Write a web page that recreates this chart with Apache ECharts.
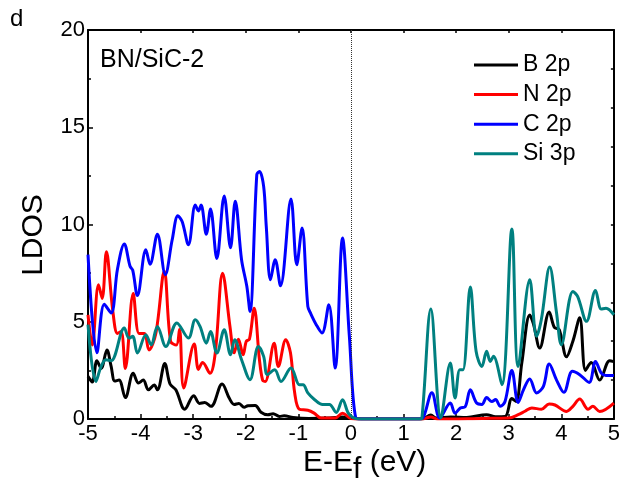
<!DOCTYPE html>
<html>
<head>
<meta charset="utf-8">
<script src="https://cdn.jsdelivr.net/npm/echarts@6/dist/echarts.min.js"></script>
<style>
html,body{margin:0;padding:0;background:#fff;}
#chart{width:623px;height:485px;}
</style>
</head>
<body>
<div id="chart"></div>
<script>
// ---- data (energy in eV, LDOS) ----
const seriesNames = ['B 2p', 'N 2p', 'C 2p', 'Si 3p'];
const xTicks = [-5, -4, -3, -2, -1, 0, 1, 2, 3, 4, 5];
const yTicks = [0, 5, 10, 15, 20];

const bX = [-5, -4.92, -4.83, -4.75, -4.64, -4.56, -4.49, -4.41, -4.29, -4.14, -4.04, -3.95, -3.85, -3.74, -3.68, -3.54, -3.44, -3.33, -3.16, -2.99, -2.88, -2.78, -2.66, -2.45, -2.31, -2.22, -2.13, -2.03, -1.96, -1.82, -1.71, -1.58, -1.48, -1.36, -1.27, -1.1, -0.8, -0.4, -0.16, 0.05, 0.2, 1.35, 1.52, 1.62, 1.9, 2.2, 2.58, 2.75, 2.93, 3.06, 3.14, 3.25, 3.4, 3.47, 3.59, 3.77, 3.87, 3.96, 4.1, 4.22, 4.35, 4.46, 4.57, 4.73, 4.92, 5];
const bY = [2.2, 1.9, 3.0, 2.6, 3.55, 2.7, 1.95, 2.0, 1.1, 2.35, 1.85, 2.0, 1.5, 1.75, 1.5, 2.85, 1.8, 1.5, 0.5, 1.2, 0.8, 0.85, 0.65, 1.8, 1.05, 0.75, 0.8, 0.6, 0.68, 0.7, 0.35, 0.22, 0.27, 0.13, 0.17, 0.08, 0.03, 0.05, 0.1, 0.02, 0, 0, 0.2, 0.05, 0.1, 0.08, 0.22, 0.12, 0.13, 1.05, 0.9, 2.9, 5.35, 4.9, 3.65, 5.5, 4.7, 4.6, 3.2, 4.0, 5.2, 2.5, 2.9, 2.0, 3.0, 2.95];

const nX = [-5, -4.92, -4.8, -4.73, -4.65, -4.53, -4.44, -4.37, -4.29, -4.14, -4.03, -3.93, -3.84, -3.71, -3.55, -3.43, -3.32, -3.26, -3.18, -2.98, -2.9, -2.82, -2.68, -2.58, -2.44, -2.3, -2.22, -2.14, -2.05, -1.99, -1.93, -1.84, -1.74, -1.68, -1.63, -1.46, -1.38, -1.24, -1.15, -1.07, -0.98, -0.82, -0.7, -0.57, -0.3, -0.16, 0.0, 0.2, 1.35, 1.52, 1.65, 2.5, 3.0, 3.18, 3.31, 3.44, 3.62, 3.77, 3.88, 4.1, 4.22, 4.35, 4.51, 4.6, 4.73, 5];
const nY = [5.35, 3.8, 6.9, 6.2, 8.6, 5.6, 4.4, 4.5, 2.6, 6.45, 4.4, 4.4, 3.55, 4.4, 7.6, 4.0, 3.8, 4.6, 1.6, 3.85, 2.55, 2.9, 2.35, 3.4, 7.5, 4.75, 3.4, 4.1, 3.3, 4.0, 4.1, 5.7, 3.05, 2.0, 1.93, 3.9, 2.7, 4.08, 3.4, 1.35, 0.5, 0.45, 0.3, 0.05, 0.05, 0.3, 0.03, 0, 0, 0.1, 0, 0.03, 0.05, 0.22, 0.4, 0.57, 0.5, 0.77, 0.72, 0.39, 0.65, 1.03, 0.5, 0.65, 0.39, 0.82];

const cX = [-5, -4.83, -4.69, -4.56, -4.44, -4.31, -4.2, -4.15, -4.06, -3.9, -3.82, -3.68, -3.53, -3.4, -3.29, -3.21, -3.09, -2.96, -2.9, -2.85, -2.75, -2.67, -2.55, -2.41, -2.29, -2.2, -2.08, -1.98, -1.92, -1.79, -1.74, -1.66, -1.61, -1.53, -1.44, -1.34, -1.14, -1.03, -0.93, -0.82, -0.77, -0.66, -0.55, -0.42, -0.3, -0.16, -0.03, 0.09, 0.2, 1.3, 1.38, 1.54, 1.69, 1.89, 1.98, 2.08, 2.17, 2.27, 2.39, 2.49, 2.58, 2.68, 2.75, 2.84, 2.93, 3.06, 3.18, 3.28, 3.4, 3.53, 3.66, 3.77, 3.91, 4.05, 4.21, 4.35, 4.53, 4.65, 4.76, 4.85, 5];
const cY = [8.45, 3.4, 5.9, 5.45, 7.7, 9.0, 7.85, 7.65, 6.35, 8.7, 7.95, 9.5, 7.42, 9.2, 10.45, 10.15, 8.96, 11.0, 10.7, 11.0, 9.5, 10.8, 8.25, 11.47, 8.8, 11.2, 8.19, 6.82, 5.53, 12.56, 12.73, 11.96, 9.9, 7.16, 8.19, 6.85, 11.31, 7.93, 9.82, 5.79, 5.45, 4.85, 4.42, 5.88, 2.62, 9.3, 4.25, 0.07, 0, 0, 0.1, 1.35, 0.05, 0.82, 0.3, 0.57, 0.62, 1.5, 0.82, 0.75, 1.1, 0.9, 1.0, 0.65, 0.9, 2.5, 0.85, 1.5, 2.06, 1.34, 1.68, 2.83, 2.0, 1.37, 2.45, 2.28, 1.88, 2.96, 2.36, 2.24, 2.24];

const sX = [-5, -4.85, -4.75, -4.66, -4.56, -4.31, -4.22, -4.15, -4.06, -3.9, -3.8, -3.68, -3.52, -3.31, -3.09, -2.96, -2.87, -2.75, -2.67, -2.55, -2.41, -2.29, -2.21, -2.08, -1.92, -1.76, -1.66, -1.59, -1.45, -1.33, -1.14, -0.98, -0.91, -0.82, -0.69, -0.54, -0.41, -0.28, -0.16, -0.05, 0.06, 0.2, 1.3, 1.35, 1.52, 1.71, 1.89, 1.98, 2.07, 2.13, 2.27, 2.38, 2.49, 2.58, 2.65, 2.71, 2.87, 3.06, 3.18, 3.4, 3.53, 3.62, 3.78, 3.91, 4.0, 4.22, 4.31, 4.48, 4.65, 4.76, 4.85, 5];
const sY = [4.85, 1.93, 2.7, 3.05, 3.0, 4.68, 4.16, 4.25, 3.39, 4.33, 3.82, 4.76, 3.73, 4.94, 4.16, 5.1, 4.76, 3.9, 4.5, 3.39, 4.59, 3.3, 4.08, 3.05, 2.02, 3.73, 3.22, 2.28, 2.53, 1.93, 2.62, 1.76, 1.76, 1.34, 0.99, 0.74, 0.74, 0.34, 0.99, 0.3, 0.05, 0, 0, 0.05, 5.65, 0.07, 2.88, 1.08, 2.53, 2.53, 6.79, 3.48, 2.7, 3.48, 2.96, 3.22, 1.76, 9.77, 2.7, 7.16, 4.25, 5.1, 7.81, 5.45, 3.82, 6.56, 6.3, 5.02, 6.61, 5.65, 5.7, 5.36];

const colors = ['#000000', '#ff0000', '#0000ff', '#008080'];
const FONT = 'Liberation Sans, Arial, Helvetica, sans-serif';

function pairs(xs, ys) { return xs.map((x, i) => [x, ys[i]]); }
const allData = [pairs(bX, bY), pairs(nX, nY), pairs(cX, cY), pairs(sX, sY)];

// measure text widths for the x-axis title with subscript
const ctx = document.createElement('canvas').getContext('2d');
ctx.font = '30px ' + FONT;
const w1 = ctx.measureText('E-E').width;
const w2 = ctx.measureText('f').width;
const titleLeft = 303;
const titleTop = 448;

const chart = echarts.init(document.getElementById('chart'));

const series = seriesNames.map((name, i) => ({
  name: name,
  type: 'line',
  data: allData[i],
  smooth: 0.35,
  symbol: 'none',
  lineStyle: { color: colors[i], width: 3 },
  itemStyle: { color: colors[i] },
  z: 2 + i
}));
series[0].markLine = {
  silent: true,
  symbol: 'none',
  label: { show: false },
  lineStyle: { type: 'dotted', color: '#333', width: 1 },
  data: [{ xAxis: 0 }]
};

const option = {
  animation: false,
  backgroundColor: '#ffffff',
  grid: { left: 88, right: 7, top: 30, bottom: 66, containLabel: false },
  xAxis: [
    {
      type: 'value', min: xTicks[0], max: xTicks[xTicks.length - 1], interval: 1,
      position: 'bottom',
      axisLine: { show: true, onZero: false, lineStyle: { color: '#000', width: 2 } },
      axisTick: { show: true, inside: true, length: 5, lineStyle: { color: '#000', width: 1.5 } },
      minorTick: { show: true, splitNumber: 2, length: 3, lineStyle: { color: '#000', width: 1.5 } },
      axisLabel: { color: '#000', fontSize: 22, fontFamily: FONT, margin: 4 },
      splitLine: { show: false }
    },
    {
      type: 'value', min: xTicks[0], max: xTicks[xTicks.length - 1], interval: 1,
      position: 'top',
      axisLine: { show: true, onZero: false, lineStyle: { color: '#000', width: 2 } },
      axisTick: { show: true, inside: true, length: 3, lineStyle: { color: '#000', width: 1.5 } },
      axisLabel: { show: false },
      splitLine: { show: false }
    }
  ],
  yAxis: [
    {
      type: 'value', min: yTicks[0], max: yTicks[yTicks.length - 1], interval: 5,
      position: 'left',
      axisLine: { show: true, onZero: false, lineStyle: { color: '#000', width: 2 } },
      axisTick: { show: true, inside: true, length: 5, lineStyle: { color: '#000', width: 1.5 } },
      minorTick: { show: true, splitNumber: 2, length: 3, lineStyle: { color: '#000', width: 1.5 } },
      axisLabel: { color: '#000', fontSize: 22, fontFamily: FONT, margin: 3 },
      splitLine: { show: false }
    },
    {
      type: 'value', min: yTicks[0], max: yTicks[yTicks.length - 1], interval: 2,
      position: 'right',
      axisLine: { show: true, onZero: false, lineStyle: { color: '#000', width: 2 } },
      axisTick: { show: true, inside: true, length: 3, lineStyle: { color: '#000', width: 1.5 } },
      axisLabel: { show: false },
      splitLine: { show: false }
    }
  ],
  legend: {
    data: seriesNames,
    orient: 'vertical',
    left: 474,
    top: 53,
    icon: 'rect',
    itemWidth: 44,
    itemHeight: 3,
    itemGap: 5.6,
    padding: 0,
    textStyle: { color: '#000', fontSize: 23, fontFamily: FONT, lineHeight: 24 }
  },
  graphic: [
    { type: 'text', left: 10, top: 7, style: { text: 'd', fill: '#000', font: '24px ' + FONT } },
    { type: 'text', left: 100, top: 48, style: { text: 'BN/SiC-2', fill: '#000', font: '25px ' + FONT } },
    { type: 'text', left: titleLeft, top: titleTop, style: { text: 'E-E', fill: '#000', font: '30px ' + FONT } },
    { type: 'text', left: titleLeft + w1, top: titleTop + 7, style: { text: 'f', fill: '#000', font: '30px ' + FONT } },
    { type: 'text', left: titleLeft + w1 + w2, top: titleTop, style: { text: ' (eV)', fill: '#000', font: '30px ' + FONT } },
    {
      type: 'text', x: 34, y: 235, rotation: Math.PI / 2,
      style: { text: 'LDOS', fill: '#000', font: '30px ' + FONT, align: 'center', verticalAlign: 'middle' }
    }
  ],
  series: series
};
chart.setOption(option);
</script>
</body>
</html>
